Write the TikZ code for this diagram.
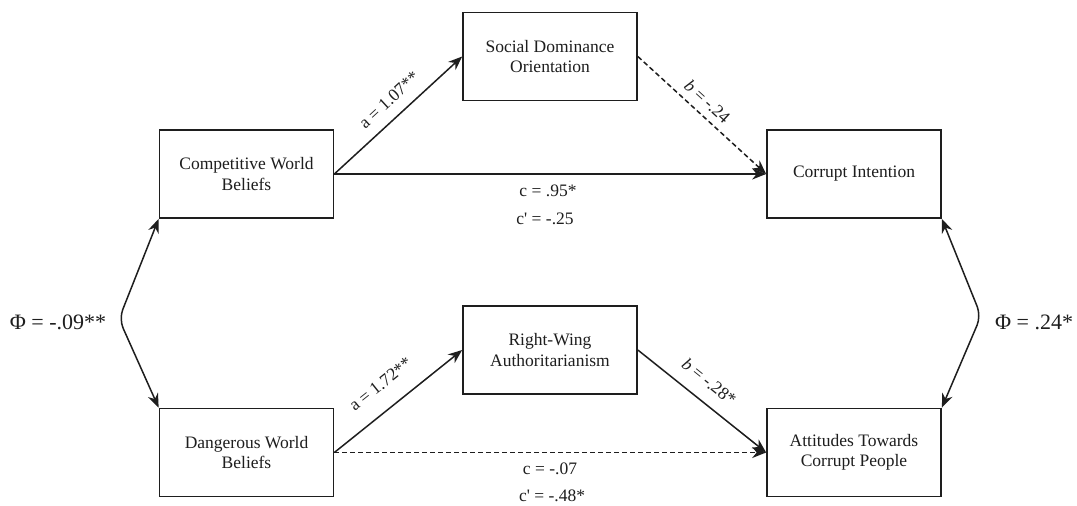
\documentclass[tikz,border=0pt]{standalone}
\usepackage{fontspec}
\setmainfont{Liberation Serif}
\usetikzlibrary{arrows.meta}
\definecolor{ink}{HTML}{1E1E1E}
\begin{document}
\begin{tikzpicture}[x=1pt,y=-1pt,
  box/.style={draw=ink, line width=1.7pt, minimum width=174pt, minimum height=88pt, align=center,
    font=\fontsize{17.5}{20.5}\selectfont, text=ink, inner sep=0pt},
  conn/.style={draw=ink, line width=1.5pt, -{Stealth[length=14pt,width=11pt]}},
  dconn/.style={conn, dash pattern=on 5pt off 3pt},
  biconn/.style={draw=ink, line width=1.5pt, {Stealth[length=14pt,width=11pt]}-{Stealth[length=14pt,width=11pt]}, rounded corners=10pt},
  lab/.style={font=\fontsize{17.5}{20}\selectfont, text=ink, inner sep=2pt},
  slab/.style={lab, sloped, anchor=south, text height=12pt, text depth=0pt},
  philab/.style={font=\fontsize{22}{26}\selectfont, text=ink}]
\useasboundingbox (0,0) rectangle (1077,506);
\fill[white] (0,0) rectangle (1077,506);

\node[box] (cwb) at (246.5,174) {Competitive World\\Beliefs};
\node[box] (dwb) at (246.5,452.5) {Dangerous World\\Beliefs};
\node[box] (sdo) at (550,56.5) {Social Dominance\\Orientation};
\node[box] (rwa) at (550,350) {Right-Wing\\Authoritarianism};
\node[box] (ci) at (854,174) {Corrupt Intention};
\node[box] (atcp) at (854,452.5) {Attitudes Towards\\Corrupt People};

\draw[conn] (cwb.east) -- node[slab, inner sep=11pt, pos=0.52] (la1) {a = 1.07**} (sdo.west);
\draw[dconn] (sdo.east) -- node[slab, inner sep=7pt, pos=0.47] (lb1) {\textit{b} = -.24} (ci.west);
\draw[conn] (cwb.east) -- (ci.west);
\node[lab] (lc1) at (548,191) {c = .95*};
\node[lab] (lcp1) at (545,219) {c\textquotesingle{} = -.25};

\draw[conn] (dwb.east) -- node[slab, inner sep=18pt, pos=0.48] (la2) {a = 1.72**} (rwa.west);
\draw[conn] (rwa.east) -- node[slab, inner sep=13pt, pos=0.46] (lb2) {\textit{b} = -.28*} (atcp.west);
\draw[dconn] (dwb.east) -- (atcp.west);
\node[lab] (lc2) at (550,469) {c = -.07};
\node[lab] (lcp2) at (552,496) {c\textquotesingle{} = -.48*};

\coordinate (lv) at (119,319);
\coordinate (rv) at (981,316);
\draw[biconn] (cwb.south west) -- (lv) -- (dwb.north west);
\draw[biconn] (ci.south east) -- (rv) -- (atcp.north east);
\node[philab] (phil) at (58,322) {Φ = -.09**};
\node[philab] (phir) at (1034,322) {Φ = .24*};
\end{tikzpicture}
\end{document}
